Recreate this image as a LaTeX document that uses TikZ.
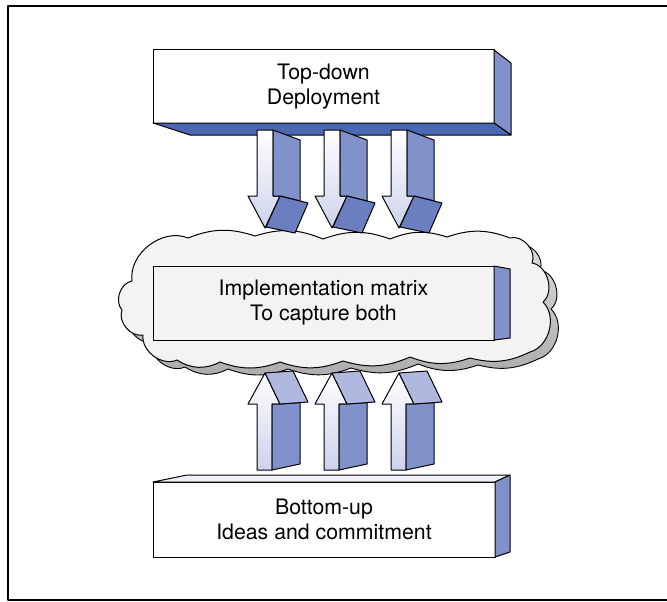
\documentclass[tikz,border=0pt]{standalone}
\usepackage{fontspec}
\setmainfont{TeX Gyre Heros}
\definecolor{sideblue}{HTML}{8191C9}
\definecolor{darkblue}{HTML}{4A69B2}
\definecolor{headdown}{HTML}{6B7FC0}
\definecolor{headup}{HTML}{AFB9E0}
\definecolor{lightlav}{HTML}{CDD2EC}
\definecolor{boxgray}{HTML}{F3F3F3}
\definecolor{topface}{HTML}{EEF0F8}
\tikzset{
  box/.style={draw, line width=1pt, rectangle, align=center, inner sep=0pt,
    font=\fontsize{21.3}{25}\selectfont},
  face/.style={draw, line width=1pt},
  arrowline/.style={draw, line width=1pt},
  cloud/.pic={
    \path[pic actions]
      (132,281) to[bend left=60] (188,238)
      to[bend left=20] (255,236)
      to[bend left=20] (323,239)
      to[bend left=20] (390,239)
      to[bend left=20] (447,237)
      to[bend left=20] (510,238)
      to[bend left=65] (532,263)
      to[bend left=65] (543,302)
      to[bend left=60] (530,352)
      to[bend left=20] (470,358)
      to[bend left=20] (410,357)
      to[bend left=20] (343,361)
      to[bend left=20] (280,362)
      to[bend left=20] (220,362)
      to[bend left=30] (177,360)
      to[bend left=60] (143,335)
      to[bend left=60] (122,310)
      to[bend left=60] (132,281) -- cycle;
  }
}
\begin{document}
\begin{tikzpicture}[x=1pt,y=-1pt,line join=round]
\useasboundingbox (0,0) rectangle (667,602);
% frame
\draw[line width=2.6pt] (680,6) -- (8,6) -- (8,600) -- (680,600);

% cloud with 3D shadow
\pic[draw=black, line width=0.9pt, top color=gray!25, bottom color=gray!65] at (8,7) {cloud};
\pic[draw=black, line width=1pt, fill=boxgray] at (0,0) {cloud};

% top box
\node[box, fill=white, minimum width=341pt, minimum height=73pt] (topbox) at (323.5,86.5) {Top-down\\Deployment};
\path[face, fill=sideblue] (494,50) -- (511,63) -- (511,135) -- (494,123) -- cycle;
\path[face, fill=darkblue] (153,123) -- (494,123) -- (511,135) -- (190,135) -- cycle;

% down arrows
\foreach \dx in {0,67,134}{
  \begin{scope}[shift={(\dx,0)}]
    \path[arrowline, top color=white, bottom color=lightlav]
      (257,130) -- (273,130) -- (273,196) -- (280,196) -- (265,228) -- (248,196) -- (257,196) -- cycle;
    \path[arrowline, fill=sideblue]
      (273,130) -- (300,140) -- (300,201) -- (280,196) -- (273,196) -- cycle;
    \path[arrowline, fill=headdown]
      (280,196) -- (308,203) -- (295,233) -- (266,227) -- cycle;
  \end{scope}
}

% implementation box
\node[box, fill=boxgray, minimum width=341pt, minimum height=74pt] (implbox) at (323.5,303) {Implementation matrix\\To capture both};
\path[face, fill=sideblue] (494,266) -- (510,269) -- (510,338) -- (494,340) -- cycle;

% up arrows
\foreach \dx in {0,67,134}{
  \begin{scope}[shift={(\dx,0)}]
    \path[arrowline, top color=white, bottom color=lightlav]
      (257,470) -- (257,404) -- (248,404) -- (265,373) -- (280,404) -- (272,404) -- (272,470) -- cycle;
    \path[arrowline, fill=sideblue]
      (272,404) -- (280,404) -- (300,402.6) -- (300,464) -- (272,470) -- cycle;
    \path[arrowline, fill=headup]
      (265,373) -- (293,371) -- (308,402) -- (280,404) -- cycle;
  \end{scope}
}

% bottom box
\node[box, fill=white, minimum width=342pt, minimum height=75pt] (bottombox) at (324,519.5) {Bottom-up\\Ideas and commitment};
\path[face, fill=topface] (153,482) -- (187,475) -- (510,475) -- (495,482) -- cycle;
\path[face, fill=sideblue] (495,482) -- (510,475) -- (510,552) -- (495,557) -- cycle;
\end{tikzpicture}
\end{document}
